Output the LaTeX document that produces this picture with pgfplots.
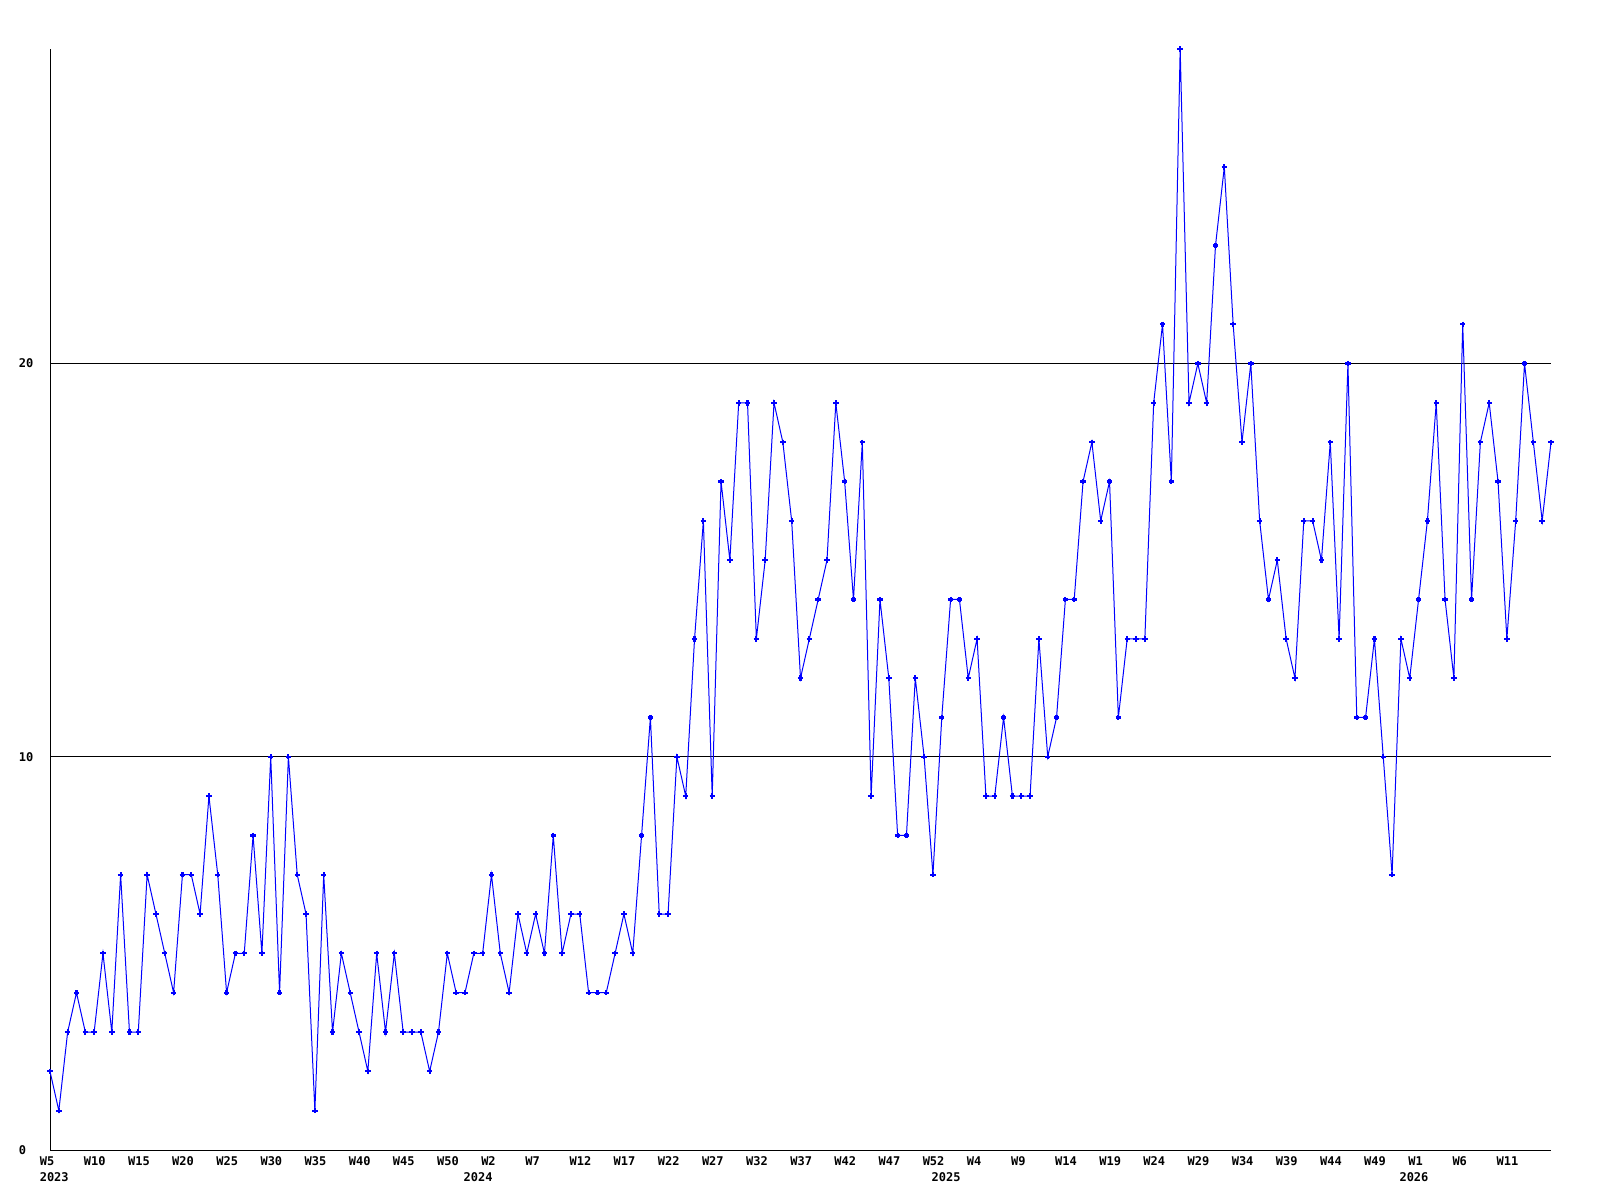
\documentclass[border=0pt]{standalone}
\usepackage{fontspec}
\setmainfont{DejaVu Sans Mono}
\usepackage{pgfplots}
\usepackage{pgfplotstable}
\pgfplotsset{compat=1.18}
\definecolor{lineblue}{RGB}{0,0,255}
\pgfplotstableread{
x y
0 2
1 1
2 3
3 4
4 3
5 3
6 5
7 3
8 7
9 3
10 3
11 7
12 6
13 5
14 4
15 7
16 7
17 6
18 9
19 7
20 4
21 5
22 5
23 8
24 5
25 10
26 4
27 10
28 7
29 6
30 1
31 7
32 3
33 5
34 4
35 3
36 2
37 5
38 3
39 5
40 3
41 3
42 3
43 2
44 3
45 5
46 4
47 4
48 5
49 5
50 7
51 5
52 4
53 6
54 5
55 6
56 5
57 8
58 5
59 6
60 6
61 4
62 4
63 4
64 5
65 6
66 5
67 8
68 11
69 6
70 6
71 10
72 9
73 13
74 16
75 9
76 17
77 15
78 19
79 19
80 13
81 15
82 19
83 18
84 16
85 12
86 13
87 14
88 15
89 19
90 17
91 14
92 18
93 9
94 14
95 12
96 8
97 8
98 12
99 10
100 7
101 11
102 14
103 14
104 12
105 13
106 9
107 9
108 11
109 9
110 9
111 9
112 13
113 10
114 11
115 14
116 14
117 17
118 18
119 16
120 17
121 11
122 13
123 13
124 13
125 19
126 21
127 17
128 28
129 19
130 20
131 19
132 23
133 25
134 21
135 18
136 20
137 16
138 14
139 15
140 13
141 12
142 16
143 16
144 15
145 18
146 13
147 20
148 11
149 11
150 13
151 10
152 7
153 13
154 12
155 14
156 16
157 19
158 14
159 12
160 21
161 14
162 18
163 19
164 17
165 13
166 16
167 20
168 18
169 16
170 18
}\datatable
\begin{document}
\begin{tikzpicture}
\useasboundingbox (-25bp,-25bp) rectangle (775bp,575bp);
\begin{axis}[
  at={(0,0)}, anchor=south west,
  scale only axis, width=750.5bp, height=550.5bp,
  xmin=0, xmax=170, ymin=0, ymax=28,
  axis lines*=left,
  axis line style={black, line width=0.5bp},
  major tick length=0pt,
  /pgf/number format/assume math mode=true,
  tick label style={font=\fontsize{6bp}{7bp}\selectfont\bfseries, inner sep=0pt},
  xtick={0,5,...,165},
  xticklabels={W5,W10,W15,W20,W25,W30,W35,W40,W45,W50,W2,W7,W12,W17,W22,W27,W32,W37,W42,W47,W52,W4,W9,W14,W19,W24,W29,W34,W39,W44,W49,W1,W6,W11},
  xticklabel style={anchor=north west, xshift=-5.3bp, yshift=-3bp},
  extra x ticks={0,48,101,154},
  extra x tick labels={2023,2024,2025,2026},
  extra x tick style={xticklabel style={yshift=-8bp}},
  ytick={0,10,20},
  yticklabel style={anchor=west, xshift=-15.8bp},
  ymajorgrids,
  grid style={black, line width=0.5bp},
  clip=false,
]
\addplot[color=lineblue, line width=0.5bp, mark=+, mark size=1.35bp, mark options={line width=1.1bp}] table[x=x, y=y] {\datatable};
\end{axis}
\end{tikzpicture}
\end{document}
